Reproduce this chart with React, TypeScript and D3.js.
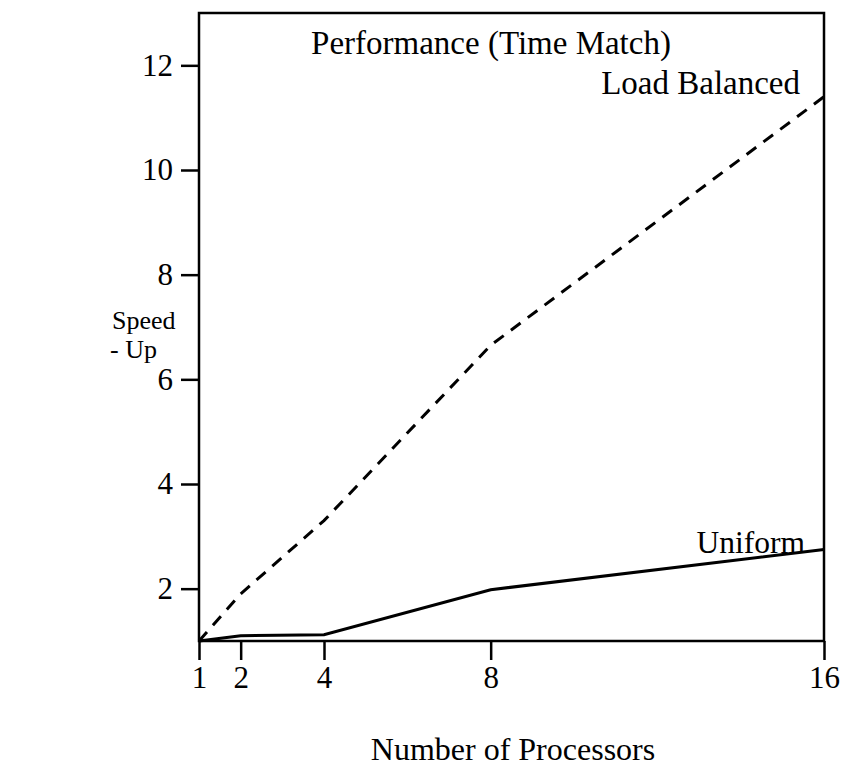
import React, { useEffect, useRef } from "react";
import * as d3 from "d3";

const processors = [1, 2, 4, 8, 16];
const loadBalanced = [1, 1.9, 3.3, 6.65, 11.4];
const uniform = [1, 1.1, 1.12, 1.98, 2.75];
const yTickValues = [2, 4, 6, 8, 10, 12];
const xTickValues = [1, 2, 4, 8, 16];

const WIDTH = 846;
const HEIGHT = 770;
const margin = { top: 13, right: 22, bottom: 129, left: 199 };
const FONT = "'Liberation Serif', 'Times New Roman', serif";

const App: React.FC = () => {
  const ref = useRef<SVGSVGElement>(null);

  useEffect(() => {
    const container = ref.current;
    if (!container) return;

    const svg = d3.select(container);
    svg.selectAll("*").remove();

    const innerW = WIDTH - margin.left - margin.right;
    const innerH = HEIGHT - margin.top - margin.bottom;

    // scaling
    const x = d3.scaleLinear().domain([1, 16]).range([margin.left, margin.left + innerW]);
    const y = d3.scaleLinear().domain([1, 13]).range([margin.top + innerH, margin.top]);

    // axes
    const yAxis = d3.axisLeft(y).tickValues(yTickValues).tickSize(18).tickPadding(8);
    const xAxis = d3.axisBottom(x).tickValues(xTickValues).tickSize(19).tickPadding(6);

    const gy = svg.append("g").attr("transform", `translate(${margin.left},0)`).call(yAxis);
    const gx = svg
      .append("g")
      .attr("transform", `translate(0,${margin.top + innerH})`)
      .call(xAxis);

    [gx, gy].forEach((g) => {
      g.select(".domain").remove();
      g.selectAll(".tick line").attr("stroke", "#000").attr("stroke-width", 2.5);
      g.selectAll(".tick text")
        .attr("fill", "#000")
        .style("font-family", FONT)
        .style("font-size", "31px");
    });

    // frame
    svg
      .append("rect")
      .attr("x", margin.left)
      .attr("y", margin.top)
      .attr("width", innerW)
      .attr("height", innerH)
      .attr("fill", "none")
      .attr("stroke", "#000")
      .attr("stroke-width", 2.5);

    const line = d3
      .line<number>()
      .x((_, i) => x(processors[i]))
      .y((d) => y(d));

    svg
      .append("path")
      .datum(loadBalanced)
      .attr("d", line)
      .attr("fill", "none")
      .attr("stroke", "#000")
      .attr("stroke-width", 3)
      .attr("stroke-dasharray", "12,9");

    svg
      .append("path")
      .datum(uniform)
      .attr("d", line)
      .attr("fill", "none")
      .attr("stroke", "#000")
      .attr("stroke-width", 3);

    // labels
    const text = (tx: number, ty: number, s: string, size: number, anchor = "start") =>
      svg
        .append("text")
        .attr("x", tx)
        .attr("y", ty)
        .attr("text-anchor", anchor)
        .style("font-family", FONT)
        .style("font-size", `${size}px`)
        .attr("fill", "#000")
        .text(s);

    text(491, 54, "Performance (Time Match)", 33, "middle");
    text(800, 94, "Load Balanced", 33, "end");
    text(805, 553, "Uniform", 31.5, "end");
    text(112, 329, "Speed", 26);
    text(110, 358, "- Up", 26);
    text(513, 760, "Number of Processors", 32, "middle");
  }, [ref]);

  return (
    <svg
      ref={ref}
      width={WIDTH}
      height={HEIGHT}
      style={{ position: "absolute", left: 0, top: 0, background: "#fff" }}
    />
  );
};

export default App;
